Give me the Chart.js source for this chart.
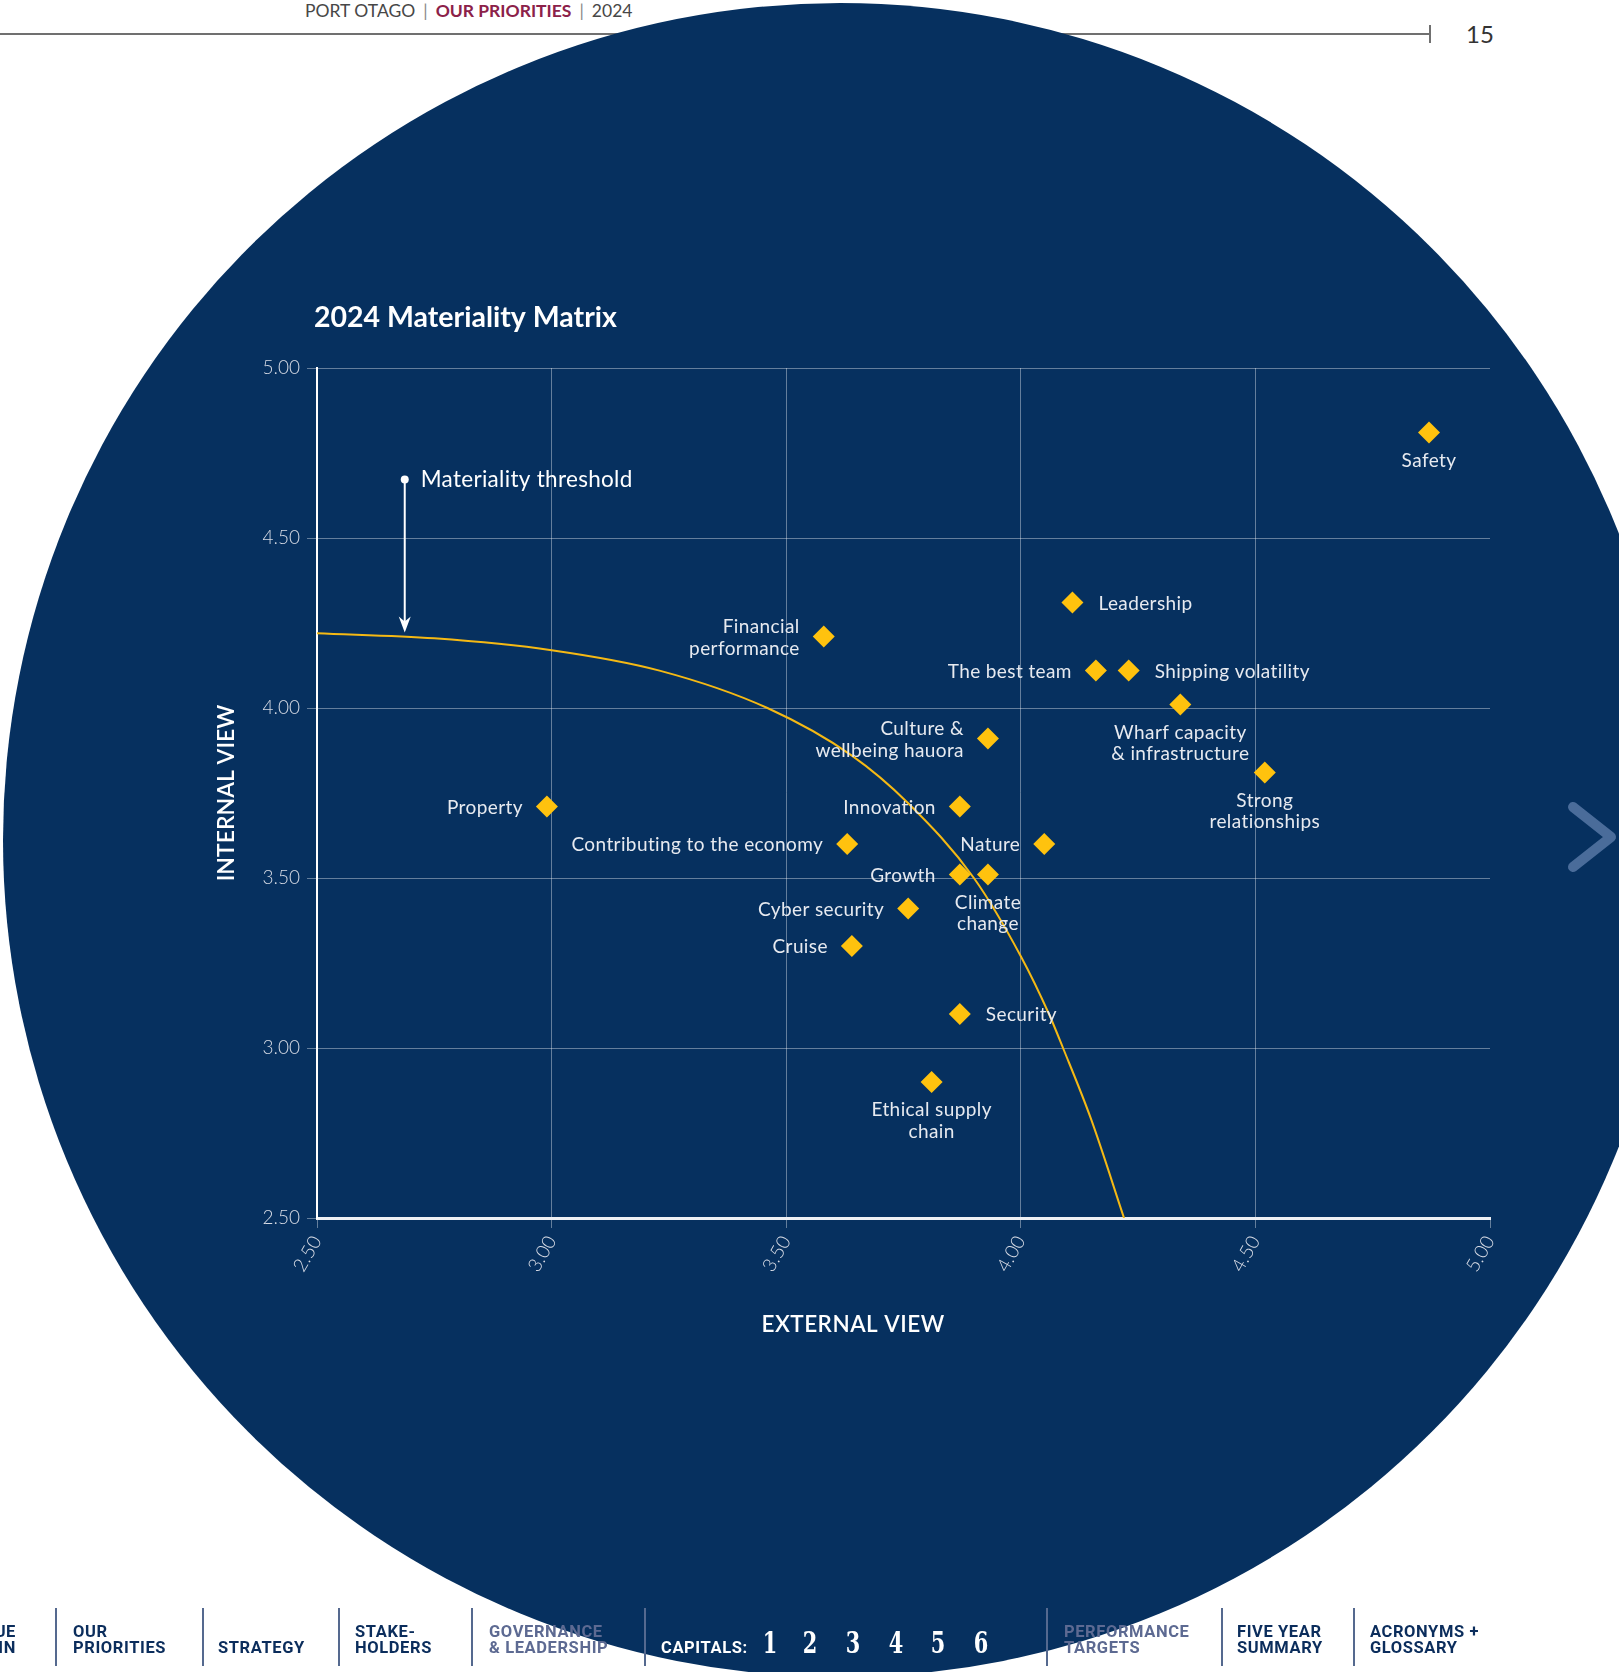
<!DOCTYPE html>
<html>
<head>
<meta charset="utf-8">
<title>2024 Materiality Matrix</title>
<script src="https://cdn.jsdelivr.net/npm/chart.js@4.4.1/dist/chart.umd.min.js"></script>
<style>
  html, body { margin: 0; padding: 0; background: #fff; }
  #page { position: relative; width: 1619px; height: 1672px; overflow: hidden; background: #fff; font-family: Lato, sans-serif; }
  .rule { position: absolute; left: 0; top: 33px; width: 1430px; height: 1.5px; background: #707070; }
  .rule-end { position: absolute; left: 1429px; top: 25px; width: 1.5px; height: 18px; background: #707070; }
  .hdr { position: absolute; left: 305px; top: 0; font-size: 17.5px; line-height: 21px; color: #474747; white-space: nowrap; }
  .hdr b { color: #8c2149; font-weight: 700; }
  .hdr .bar { color: #888; margin: 0 8px; }
  .folio { position: absolute; left: 1466px; top: 20px; font-size: 24px; line-height: 28px; color: #333; }
  .disc { position: absolute; left: 3px; top: 3px; width: 1674px; height: 1674px; border-radius: 50%; background: #06305f; }
  #matrix { position: absolute; left: 0; top: 0; }
  .chev { position: absolute; left: 0; top: 0; }
  .sep { position: absolute; top: 1608px; width: 1.5px; height: 58px; background: #55698f; }
  .nav { position: absolute; top: 1624px; font: 700 16.5px/16px Roboto, sans-serif; letter-spacing: 0.6px; color: #0b2d5c; white-space: nowrap; }
  .nav.low { top: 1640px; }
  .nav.dim { color: #5d6a92; }
  .nav.cap { color: #fff; }
  .digit { position: absolute; top: 1627px; width: 30px; margin-left: -15px; text-align: center; color: #fff;
           font: 700 29px/32px "DejaVu Serif", serif; transform: scaleX(0.72); }
</style>
</head>
<body>
<div id="page">
  <div class="rule"></div>
  <div class="rule-end"></div>
  <div class="hdr">PORT OTAGO<span class="bar">|</span><b>OUR PRIORITIES</b><span class="bar">|</span>2024</div>
  <div class="folio">15</div>

  <div class="disc"></div>
  <canvas id="matrix" width="1619" height="1672"></canvas>

  <svg class="chev" width="1619" height="1672">
    <polyline points="1573,807 1611,837 1573,867" fill="none" stroke="#4a6c9a" stroke-width="10"
              stroke-linecap="round" stroke-linejoin="round"/>
  </svg>

  <div class="sep" style="left:55px"></div>
  <div class="sep" style="left:202px"></div>
  <div class="sep" style="left:338px"></div>
  <div class="sep" style="left:471px"></div>
  <div class="sep" style="left:644px"></div>
  <div class="sep" style="left:1046px"></div>
  <div class="sep" style="left:1221px"></div>
  <div class="sep" style="left:1353px"></div>

  <div class="nav" style="right:1603px;text-align:right">VALUE<br>CHAIN</div>
  <div class="nav" style="left:73px">OUR<br>PRIORITIES</div>
  <div class="nav low" style="left:218px">STRATEGY</div>
  <div class="nav" style="left:355px">STAKE-<br>HOLDERS</div>
  <div class="nav dim" style="left:489px">GOVERNANCE<br>&amp; LEADERSHIP</div>
  <div class="nav low cap" style="left:661px">CAPITALS:</div>
  <div class="digit" style="left:770px">1</div>
  <div class="digit" style="left:810px">2</div>
  <div class="digit" style="left:853px">3</div>
  <div class="digit" style="left:896px">4</div>
  <div class="digit" style="left:938px">5</div>
  <div class="digit" style="left:981px">6</div>
  <div class="nav dim" style="left:1064px">PERFORMANCE<br>TARGETS</div>
  <div class="nav" style="left:1237px">FIVE YEAR<br>SUMMARY</div>
  <div class="nav" style="left:1370px">ACRONYMS +<br>GLOSSARY</div>
</div>

<script>
// material topics, scored on a 1-5 scale by external and internal stakeholders
const topics = [
  'Safety', 'Leadership', 'Financial performance', 'The best team', 'Shipping volatility',
  'Wharf capacity & infrastructure', 'Culture & wellbeing hauora', 'Strong relationships',
  'Property', 'Innovation', 'Contributing to the economy', 'Nature', 'Growth',
  'Climate change', 'Cyber security', 'Cruise', 'Security', 'Ethical supply chain'
];
const externalView = [4.87, 4.11, 3.58, 4.16, 4.23, 4.34, 3.93, 4.52, 2.99, 3.87, 3.63, 4.05, 3.87, 3.93, 3.76, 3.64, 3.87, 3.81];
const internalView = [4.81, 4.31, 4.21, 4.11, 4.11, 4.01, 3.91, 3.81, 3.71, 3.71, 3.60, 3.60, 3.51, 3.51, 3.41, 3.30, 3.10, 2.90];

// materiality threshold line
const thresholdX = [2.50, 2.75, 3.00, 3.23, 3.46, 3.64, 3.76, 3.90, 4.00, 4.06, 4.09, 4.15, 4.22];
const thresholdY = [4.22, 4.205, 4.17, 4.11, 4.00, 3.86, 3.72, 3.50, 3.27, 3.10, 3.00, 2.79, 2.50];

const tickValues = [2.5, 3.0, 3.5, 4.0, 4.5, 5.0];

// where each topic's name sits around its marker
const labelPlacement = {
  'Safety': { side: 'below' },
  'Leadership': { side: 'right' },
  'Financial performance': { side: 'left', lines: ['Financial', 'performance'] },
  'The best team': { side: 'left' },
  'Shipping volatility': { side: 'right' },
  'Wharf capacity & infrastructure': { side: 'below', lines: ['Wharf capacity', '& infrastructure'] },
  'Culture & wellbeing hauora': { side: 'left', lines: ['Culture &', 'wellbeing hauora'] },
  'Strong relationships': { side: 'below', lines: ['Strong', 'relationships'] },
  'Property': { side: 'left' },
  'Innovation': { side: 'left' },
  'Contributing to the economy': { side: 'left' },
  'Nature': { side: 'left' },
  'Growth': { side: 'left' },
  'Climate change': { side: 'below', lines: ['Climate', 'change'] },
  'Cyber security': { side: 'left' },
  'Cruise': { side: 'left' },
  'Security': { side: 'right' },
  'Ethical supply chain': { side: 'below', lines: ['Ethical supply', 'chain'] }
};

// arrow pointing down at the threshold line
const note = { x: 2.687, top: 4.672, tip: 4.222, text: 'Materiality threshold' };

const NAVY_TEXT = '#e7eaf0';
const GRID = 'rgba(255,255,255,0.38)';
const TICK_TEXT = '#d7dbe5';
const GOLD = '#ffc20e';

const annotate = {
  id: 'annotate',
  afterDatasetsDraw(chart) {
    const { ctx, chartArea, scales: { x, y } } = chart;
    const pts = chart.getDatasetMeta(0).data;
    ctx.save();

    // title
    ctx.fillStyle = '#ffffff';
    ctx.textBaseline = 'middle';
    ctx.textAlign = 'left';
    ctx.font = 'bold 28.5px Lato';
    ctx.fillText('2024 Materiality Matrix', chartArea.left - 3, chartArea.top - 50);

    // topic names
    ctx.font = '19px Lato';
    ctx.letterSpacing = '0.4px';
    ctx.fillStyle = NAVY_TEXT;
    topics.forEach((name, i) => {
      const p = pts[i];
      const place = labelPlacement[name];
      const lines = place.lines || [name];
      if (place.side === 'below') {
        ctx.textAlign = 'center';
        lines.forEach((t, k) => ctx.fillText(t, p.x, p.y + 28 + k * 21.5));
      } else {
        const left = place.side === 'left';
        ctx.textAlign = left ? 'right' : 'left';
        const tx = left ? p.x - 24 : p.x + 26;
        lines.forEach((t, k) => ctx.fillText(t, tx, p.y + 1 + (k - (lines.length - 1) / 2) * 22));
      }
    });

    // threshold callout
    const nx = x.getPixelForValue(note.x);
    const ny0 = y.getPixelForValue(note.top);
    const ny1 = y.getPixelForValue(note.tip);
    ctx.strokeStyle = '#ffffff';
    ctx.fillStyle = '#ffffff';
    ctx.lineWidth = 2;
    ctx.beginPath();
    ctx.moveTo(nx, ny0);
    ctx.lineTo(nx, ny1 - 6);
    ctx.stroke();
    ctx.beginPath();
    ctx.arc(nx, ny0, 4, 0, Math.PI * 2);
    ctx.fill();
    ctx.beginPath();
    ctx.moveTo(nx - 6, ny1 - 16);
    ctx.lineTo(nx, ny1);
    ctx.lineTo(nx + 6, ny1 - 16);
    ctx.lineTo(nx, ny1 - 11);
    ctx.closePath();
    ctx.fill();
    ctx.font = '22.5px Lato';
    ctx.letterSpacing = '0.3px';
    ctx.textAlign = 'left';
    ctx.fillText(note.text, nx + 16, ny0);

    // x axis title sits left of centre
    ctx.font = '600 22.5px Lato';
    ctx.letterSpacing = '0.5px';
    ctx.textAlign = 'center';
    ctx.fillText('EXTERNAL VIEW', chartArea.left + chartArea.width * 0.457, chartArea.bottom + 107);

    ctx.restore();
  }
};

const tickFont = { family: 'Lato', size: 19, weight: 300 };

new Chart(document.getElementById('matrix'), {
  type: 'scatter',
  data: {
    datasets: [
      {
        label: 'Topics',
        data: topics.map((t, i) => ({ x: externalView[i], y: internalView[i] })),
        pointStyle: 'rectRot',
        pointRadius: 11,
        pointHoverRadius: 11,
        backgroundColor: GOLD,
        borderWidth: 0,
        order: 0
      },
      {
        label: 'Materiality threshold',
        data: thresholdX.map((v, i) => ({ x: v, y: thresholdY[i] })),
        showLine: true,
        borderColor: '#f5b914',
        borderWidth: 2,
        pointRadius: 0,
        cubicInterpolationMode: 'monotone',
        order: 1
      }
    ]
  },
  options: {
    responsive: false,
    animation: false,
    devicePixelRatio: 1,
    layout: { padding: { top: 368, left: 0, right: 129, bottom: 354 } },
    plugins: {
      legend: { display: false },
      title: { display: false },
      tooltip: { enabled: false }
    },
    scales: {
      x: {
        type: 'linear',
        min: 2.5,
        max: 5,
        afterBuildTicks: (s) => { s.ticks = tickValues.map((v) => ({ value: v })); },
        afterFit: (s) => { s.height = 100; },
        grid: {
          color: (c) => (c.tick && c.tick.value === 5 ? 'rgba(0,0,0,0)' : GRID),
          tickColor: GRID,
          tickLength: 10,
          lineWidth: 1
        },
        border: { color: '#eef0f4', width: 3 },
        ticks: {
          color: TICK_TEXT,
          font: tickFont,
          minRotation: 60,
          maxRotation: 60,
          padding: 4,
          callback: (v) => Number(v).toFixed(2)
        }
      },
      y: {
        type: 'linear',
        min: 2.5,
        max: 5,
        afterBuildTicks: (s) => { s.ticks = tickValues.map((v) => ({ value: v })); },
        afterFit: (s) => { s.width = 317; },
        grid: { color: GRID, tickColor: GRID, tickLength: 10, lineWidth: 1 },
        border: { color: '#ffffff', width: 2 },
        ticks: {
          color: TICK_TEXT,
          font: tickFont,
          padding: 7,
          callback: (v) => Number(v).toFixed(2)
        },
        title: {
          display: true,
          text: 'INTERNAL VIEW',
          color: '#ffffff',
          font: { family: 'Lato', size: 23, weight: 600 },
          padding: { top: 213, bottom: 0 }
        }
      }
    }
  },
  plugins: [annotate]
});
</script>
</body>
</html>
